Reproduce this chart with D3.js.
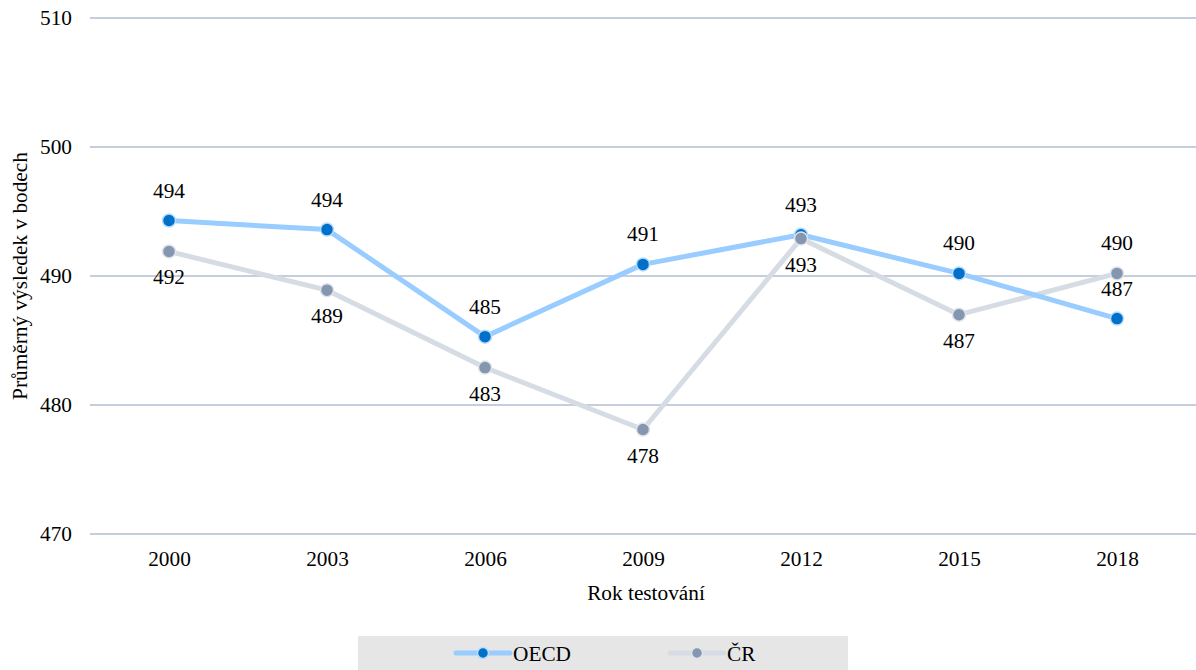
<!DOCTYPE html>
<html>
<head>
<meta charset="utf-8">
<script src="https://cdn.jsdelivr.net/npm/d3@7"></script>
<style>
  html, body { margin: 0; padding: 0; background: #ffffff; }
  svg { display: block; }
  svg text { font-family: "Liberation Serif", "DejaVu Serif", serif; }
</style>
</head>
<body>
<svg id="chart" width="1196" height="670"></svg>
<script>
// Test years and mean scores
const years = ["2000", "2003", "2006", "2009", "2012", "2015", "2018"];
const oecdValues = [494.3, 493.6, 485.3, 490.9, 493.2, 490.2, 486.7];
const crValues = [491.9, 488.9, 482.9, 478.1, 492.9, 487.0, 490.2];
// Label placement per point: -1 above, +1 below
const oecdLabelSide = [-1, -1, -1, -1, -1, -1, -1];
const crLabelSide = [1, 1, 1, 1, 1, 1, -1];
const yTicks = [470, 480, 490, 500, 510];

const series = [
  { name: "OECD", values: oecdValues, sides: oecdLabelSide, line: "#99ccff", dot: "#0070c8", ring: "#b8dcff" },
  { name: "ČR", values: crValues, sides: crLabelSide, line: "#d6dce4", dot: "#8496b0", ring: "#dfe4ea" }
];

const FS = 21.3;
const svg = d3.select("#chart");
const plotLeft = 90, plotRight = 1196, plotTop = 18, plotBottom = 534;

const x = d3.scalePoint().domain(years).range([plotLeft, plotRight]).padding(0.5);
const y = d3.scaleLinear().domain([470, 510]).range([plotBottom, plotTop]);

// Horizontal gridlines
svg.append("g").selectAll("line").data(yTicks).join("line")
  .attr("x1", plotLeft).attr("x2", plotRight)
  .attr("y1", d => y(d)).attr("y2", d => y(d))
  .attr("stroke", "#8c9dbb").attr("stroke-width", 1.2);

// Y axis tick labels
const yAxis = d3.axisLeft(y).tickValues(yTicks).tickSize(0).tickPadding(18);
const gy = svg.append("g").attr("transform", `translate(${plotLeft},0)`).call(yAxis);
gy.select(".domain").remove();
gy.attr("font-family", null).attr("font-size", null);
gy.selectAll("text").attr("font-size", FS).attr("fill", "#000");

// X axis tick labels
const xAxis = d3.axisBottom(x).tickSize(0).tickPadding(17);
const gx = svg.append("g").attr("transform", `translate(0,${plotBottom})`).call(xAxis);
gx.select(".domain").remove();
gx.attr("font-family", null).attr("font-size", null);
gx.selectAll("text").attr("font-size", FS).attr("fill", "#000");

// Axis titles
svg.append("text").attr("x", (plotLeft + plotRight) / 2 + 3).attr("y", 600)
  .attr("text-anchor", "middle").attr("font-size", FS).text("Rok testování");
svg.append("text")
  .attr("transform", `translate(27,${(plotTop + plotBottom) / 2}) rotate(-90)`)
  .attr("text-anchor", "middle").attr("font-size", FS).text("Průměrný výsledek v bodech");

const line = d3.line().x((d, i) => x(years[i])).y(d => y(d));

// Lines first (ČR below OECD)
const drawOrder = [series[1], series[0]];
drawOrder.forEach(s => {
  svg.append("path").datum(s.values)
    .attr("d", line).attr("fill", "none")
    .attr("stroke", s.line).attr("stroke-width", 5)
    .attr("stroke-linejoin", "round").attr("stroke-linecap", "round");
});
// Markers: OECD then ČR on top
series.forEach(s => {
  svg.append("g").selectAll("circle").data(s.values).join("circle")
    .attr("cx", (d, i) => x(years[i])).attr("cy", d => y(d)).attr("r", 6.5)
    .attr("fill", s.dot).attr("stroke", s.ring).attr("stroke-width", 1.5);
});

// Value labels
series.forEach(s => {
  svg.append("g").selectAll("text").data(s.values).join("text")
    .attr("x", (d, i) => x(years[i]))
    .attr("y", (d, i) => y(d) + (s.sides[i] < 0 ? -23 : 33))
    .attr("text-anchor", "middle").attr("font-size", FS).attr("fill", "#000")
    .text(d => Math.round(d));
});

// Legend
const lg = svg.append("g");
lg.append("rect").attr("x", 358).attr("y", 636).attr("width", 490).attr("height", 34).attr("fill", "#e6e6e6");
const legendItems = [
  { s: series[0], x0: 456 },
  { s: series[1], x0: 670 }
];
legendItems.forEach(it => {
  const cy = 653;
  lg.append("line").attr("x1", it.x0).attr("x2", it.x0 + 54).attr("y1", cy).attr("y2", cy)
    .attr("stroke", it.s.line).attr("stroke-width", 5).attr("stroke-linecap", "round");
  lg.append("circle").attr("cx", it.x0 + 27).attr("cy", cy).attr("r", 5.5)
    .attr("fill", it.s.dot).attr("stroke", it.s.ring).attr("stroke-width", 1.5);
  lg.append("text").attr("x", it.x0 + 57).attr("y", cy + 8).attr("font-size", FS).text(it.s.name);
});
</script>
</body>
</html>
